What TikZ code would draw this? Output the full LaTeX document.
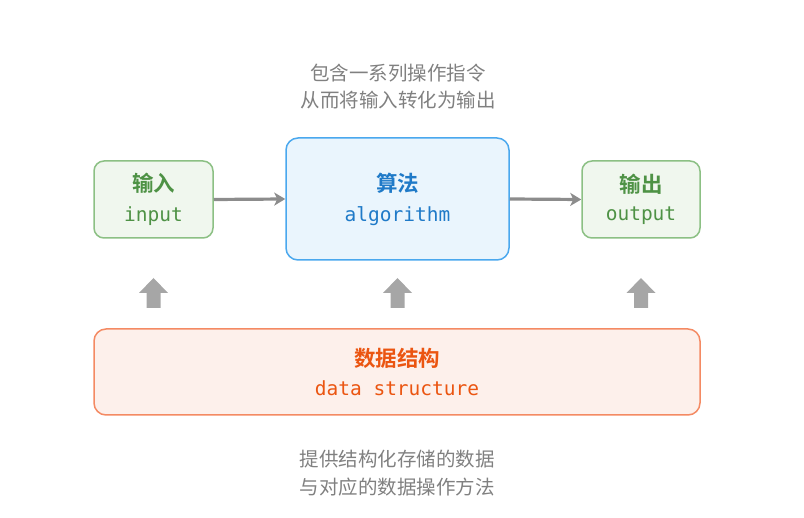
\documentclass[tikz,border=0pt]{standalone}
\usepackage{fontspec}
\setmonofont{DejaVu Sans Mono}
\newfontfamily\cjk{Noto Sans CJK SC}
\newfontfamily\cjkb{Noto Sans CJK SC Bold}
\usetikzlibrary{arrows.meta,calc}
\definecolor{gbord}{HTML}{8CC084}
\definecolor{gfill}{HTML}{F0F7EE}
\definecolor{gtext}{HTML}{4E9245}
\definecolor{bbord}{HTML}{4AA8EE}
\definecolor{bfill}{HTML}{EAF5FD}
\definecolor{btext}{HTML}{1F7AC8}
\definecolor{obord}{HTML}{F48A63}
\definecolor{ofill}{HTML}{FDF0EB}
\definecolor{otext}{HTML}{EB5511}
\definecolor{arr}{HTML}{8C8C8C}
\definecolor{uparr}{HTML}{A6A6A6}
\definecolor{lbl}{HTML}{808080}
\tikzset{
  boxg/.style={draw=gbord,fill=gfill,line width=1.5pt,rounded corners=10pt,text=gtext,align=center,inner sep=0pt},
  boxb/.style={draw=bbord,fill=bfill,line width=1.5pt,rounded corners=12pt,text=btext,align=center,inner sep=0pt},
  boxo/.style={draw=obord,fill=ofill,line width=1.5pt,rounded corners=12pt,text=otext,align=center,inner sep=0pt},
  flow/.style={draw=arr,line width=3.2pt,-{Stealth[length=11pt,width=13pt,inset=3pt]}},
  uparrow/.style={fill=uparr,draw=none},
  lab/.style={text=lbl,align=center,font=\cjk\fontsize{19.5}{27.5}\selectfont},
}
\newcommand{\ttl}[1]{{\cjkb\fontsize{21.5}{22}\selectfont #1}}
\newcommand{\mon}[1]{{\ttfamily\fontsize{19.5}{20}\selectfont #1}}
\newcommand{\uparr}[1]{\fill[uparrow] ($(#1)+(-7,15)$) -- ++(0,-15) -- ++(-7.5,0) -- ++(14.5,-15) -- ++(14.5,15) -- ++(-7.5,0) -- ++(0,15) -- cycle;}
\begin{document}
\begin{tikzpicture}[x=1pt,y=-1pt]
\useasboundingbox (0,0) rectangle (804,518);
\node[boxg,minimum width=119pt,minimum height=77pt] (in) at (153.5,199.5) {\ttl{输入}\\[12pt]\mon{input}};
\node[boxb,minimum width=223pt,minimum height=122pt] (alg) at (397.5,199) {\ttl{算法}\\[12pt]\mon{algorithm}};
\node[boxg,minimum width=118pt,minimum height=77pt] (out) at (641,199.5) {\ttl{输出}\\[12pt]\mon{output}};
\node[boxo,minimum width=606pt,minimum height=86pt] (ds) at (397,372) {\ttl{数据结构}\\[12pt]\mon{data structure}};
\draw[flow] (in.east) -- (alg.west);
\draw[flow] (alg.east) -- (out.west);
\coordinate (u1) at (153.5,293);
\coordinate (u2) at (397.5,293);
\coordinate (u3) at (641,293);
\uparr{u1}
\uparr{u2}
\uparr{u3}
\node[lab] (top) at (398,86.5) {包含一系列操作指令\\从而将输入转化为输出};
\node[lab] (bot) at (397,473) {提供结构化存储的数据\\与对应的数据操作方法};
\end{tikzpicture}
\end{document}
